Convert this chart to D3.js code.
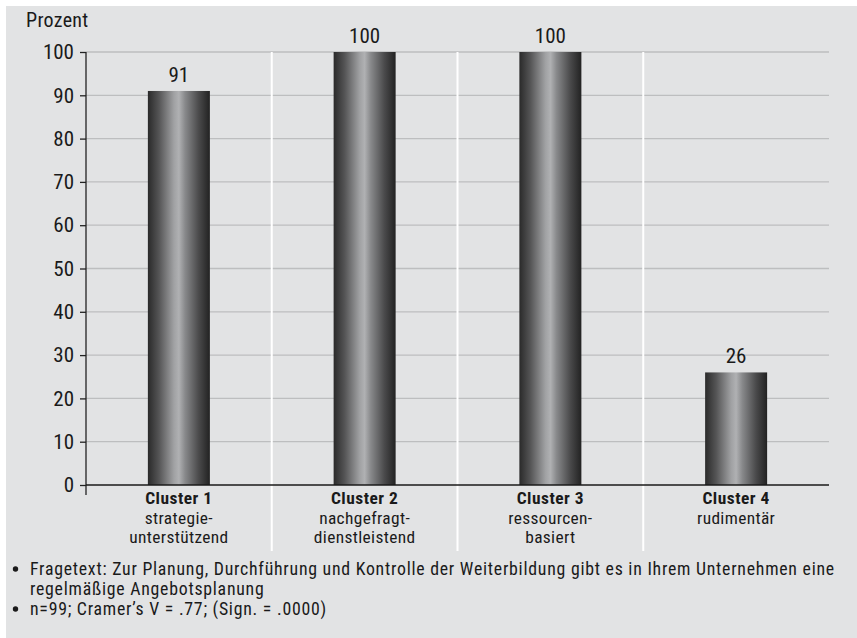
<!DOCTYPE html>
<html><head><meta charset="utf-8">
<script src="https://cdn.jsdelivr.net/npm/d3@7"></script>
<style>
html,body{margin:0;padding:0;background:#fff;}
svg text{font-family:"Liberation Sans Narrow","Roboto Condensed","Arial Narrow",sans-serif;fill:#1a1a1a;}
</style></head>
<body><svg id="c" width="857" height="638"></svg>
<script>
const clusters = ["Cluster 1","Cluster 2","Cluster 3","Cluster 4"];
const subLabels = [["strategie-","unterstützend"],["nachgefragt-","dienstleistend"],["ressourcen-","basiert"],["rudimentär"]];
const values = [91,100,100,26];
const yTicks = [0,10,20,30,40,50,60,70,80,90,100];
const yTitle = "Prozent";
const notes = [["Fragetext: Zur Planung, Durchführung und Kontrolle der Weiterbildung gibt es in Ihrem Unternehmen eine","regelmäßige Angebotsplanung"],["n=99; Cramer’s V = .77; (Sign. = .0000)"]];

const svg = d3.select("#c");
svg.append("rect").attr("x",6).attr("y",6).attr("width",851).attr("height",632).attr("fill","#e2e3e4");

const x = d3.scaleBand().domain(clusters).range([86,829]).paddingInner(0).paddingOuter(0);
const y = d3.scaleLinear().domain([0,100]).range([485,52]);

const defs = svg.append("defs");
const g = defs.append("linearGradient").attr("id","cyl").attr("x1","0").attr("x2","1").attr("y1","0").attr("y2","0");
[[0,"#2a2a2a"],[0.18,"#555556"],[0.42,"#a0a1a3"],[0.5,"#b0b1b3"],[0.6,"#88898b"],[0.82,"#4a4a4b"],[1,"#222222"]]
  .forEach(([o,c])=>g.append("stop").attr("offset",o).attr("stop-color",c));

// gridlines
svg.append("g").selectAll("line").data(yTicks.filter(d=>d>0)).join("line")
  .attr("x1",86).attr("x2",829).attr("y1",d=>y(d)).attr("y2",d=>y(d))
  .attr("stroke","#bdbebf").attr("stroke-width",1.3);

// white separators
svg.append("g").selectAll("line").data(clusters.slice(1)).join("line")
  .attr("x1",d=>x(d)).attr("x2",d=>x(d)).attr("y1",52).attr("y2",551)
  .attr("stroke","#ffffff").attr("stroke-width",2);

// bars
const bw = 62;
svg.append("g").selectAll("rect").data(values).join("rect")
  .attr("x",(d,i)=>x(clusters[i])+x.bandwidth()/2-bw/2)
  .attr("width",bw)
  .attr("y",d=>y(d)).attr("height",d=>y(0)-y(d))
  .attr("fill","url(#cyl)");

// value labels
svg.append("g").selectAll("text").data(values).join("text")
  .attr("x",(d,i)=>x(clusters[i])+x.bandwidth()/2)
  .attr("y",d=>y(d)-9)
  .attr("text-anchor","middle").attr("font-size",21)
  .text(d=>d);

// y axis
const ya = d3.axisLeft(y).tickValues(yTicks).tickSize(6).tickPadding(6);
const yg = svg.append("g").attr("transform","translate(86,0)").call(ya);
yg.select(".domain").remove();
yg.selectAll(".tick line").attr("stroke","#222").attr("stroke-width",1.3);
yg.selectAll(".tick text").attr("font-size",21).attr("fill","#1a1a1a")
  .style("font-family",'"Liberation Sans Narrow","Roboto Condensed",sans-serif');
svg.append("line").attr("x1",86).attr("x2",86).attr("y1",52).attr("y2",495).attr("stroke","#222").attr("stroke-width",1.3);
// baseline
svg.append("line").attr("x1",86).attr("x2",829).attr("y1",y(0)).attr("y2",y(0)).attr("stroke","#1a1a1a").attr("stroke-width",1.5);

svg.append("text").attr("x",26).attr("y",27).attr("font-size",20).attr("letter-spacing",0.3).text(yTitle);

// category labels
const cl = svg.append("g").selectAll("g").data(clusters).join("g")
  .attr("transform",d=>`translate(${x(d)+x.bandwidth()/2},0)`);
cl.append("text").attr("y",504).attr("text-anchor","middle").attr("font-size",17.4)
  .attr("letter-spacing",0.5).attr("font-weight","bold").text(d=>d);
cl.each(function(d,i){
  d3.select(this).selectAll("text.sub").data(subLabels[i]).join("text").attr("class","sub")
    .attr("y",(s,j)=>523.5+j*19.5).attr("text-anchor","middle").attr("font-size",17.4)
    .attr("letter-spacing",0.35).text(s=>s);
});

// footnotes
let ly = 575;
notes.forEach(lines=>{
  svg.append("circle").attr("cx",15.5).attr("cy",ly-6).attr("r",2.7).attr("fill","#1a1a1a");
  lines.forEach(t=>{
    svg.append("text").attr("x",30).attr("y",ly).attr("font-size",17.8).attr("letter-spacing",0.75).text(t);
    ly += 20;
  });
});
</script></body></html>
